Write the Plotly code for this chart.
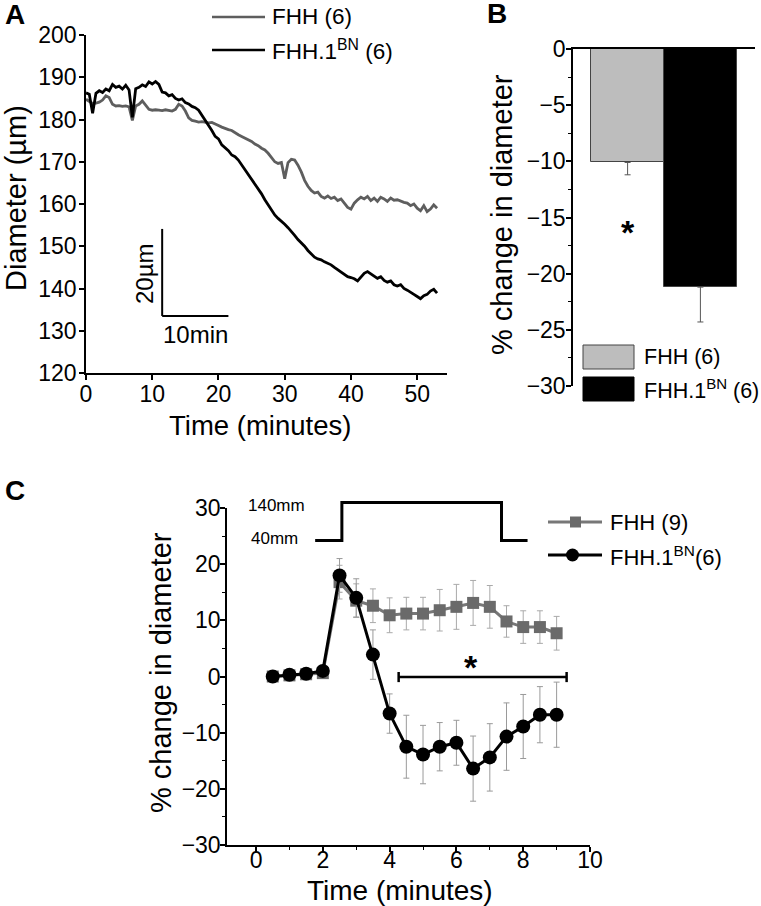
import plotly.graph_objects as go

# ---------------- Panel A data (diameter traces, µm) ----------------
time_a = [i * 0.5 for i in range(107)]
fhh_a = [184.8, 184.2, 183.8, 183.9, 184.1, 184.6, 185.6, 185.2, 183.6, 183.2,
         183.3, 183.1, 183.2, 183.0, 179.8, 183.2, 183.6, 184.4, 183.4, 182.4,
         182.2, 182.3, 182.2, 182.1, 182.3, 182.2, 182.0, 182.4, 183.6, 183.2,
         182.0, 180.4, 179.8, 179.6, 179.4, 179.5, 179.3, 179.2, 179.3, 179.0,
         178.6, 178.2, 177.8, 177.6, 177.4, 176.8, 176.4, 176.0, 175.6, 175.2,
         174.8, 174.2, 173.8, 173.2, 172.8, 172.0, 171.0, 170.0, 169.6, 169.8,
         166.0, 169.8, 170.6, 170.4, 169.2, 167.6, 165.6, 164.2, 163.2, 162.6,
         162.8, 161.8, 161.4, 161.9, 161.3, 161.6, 160.8, 161.2, 160.2, 159.2,
         158.8, 160.2, 161.0, 161.6, 161.2, 161.8, 160.8, 161.4, 160.6, 161.6,
         161.2, 160.6, 161.4, 160.9, 161.0, 160.6, 160.4, 160.2, 159.6, 160.0,
         159.0, 158.4, 159.6, 158.2, 158.8, 159.8, 159.0]
bn_a = [186.3, 186.0, 181.5, 186.2, 186.8, 186.4, 187.2, 186.8, 188.3, 187.6,
        187.9, 187.2, 188.1, 187.0, 180.5, 187.3, 187.6, 188.2, 187.8, 188.9,
        188.4, 189.0, 188.3, 186.5, 186.3, 185.6, 185.9, 185.0, 184.6, 184.9,
        184.0, 183.7, 183.1, 182.8, 182.2, 181.0, 180.0, 178.6, 177.4, 176.0,
        175.4, 174.0, 173.3, 172.6, 171.6, 171.2, 170.4, 169.3, 168.2, 167.0,
        166.0, 164.6, 163.5, 162.4, 161.0, 159.8, 158.4, 157.4, 156.6, 156.0,
        155.2, 154.4, 153.6, 152.6, 151.6, 150.9, 150.0, 149.0, 148.2, 147.4,
        147.0, 146.8, 146.3, 146.0, 145.6, 145.0, 144.4, 143.8, 143.2, 142.8,
        142.6, 142.3, 141.8, 142.6, 143.6, 144.0, 143.5, 143.0, 142.4, 142.8,
        141.9, 141.5, 141.8, 140.9, 140.6, 140.9, 140.0, 139.6, 139.2, 138.6,
        138.1, 137.6, 138.3, 138.6, 139.4, 139.8, 138.9]

# ---------------- Panel B data (% change) ----------------
groups_b = ["FHH (6)", "FHH.1<sup>BN</sup> (6)"]
mean_b = [-10.1, -21.2]
sem_b = [1.1, 3.1]

# ---------------- Panel C data (% change vs time) ----------------
time_c = [0.5, 1.0, 1.5, 2.0, 2.5, 3.0, 3.5, 4.0, 4.5, 5.0, 5.5, 6.0, 6.5, 7.0, 7.5, 8.0, 8.5, 9.0]
fhh_c = [0.0, 0.2, 0.4, 0.6, 16.8, 13.5, 12.6, 10.9, 11.2, 11.2, 11.8, 12.4, 13.1, 12.4, 9.8, 8.8, 8.8, 7.7]
fhh_c_se = [0.3, 0.3, 0.3, 0.4, 3.0, 3.0, 3.0, 3.1, 2.9, 2.9, 3.7, 4.0, 4.0, 3.8, 2.8, 2.9, 2.9, 3.0]
bn_c = [0.0, 0.3, 0.5, 1.0, 18.0, 14.0, 3.9, -6.6, -12.5, -13.9, -12.5, -11.8, -16.4, -14.4, -10.7, -8.9, -6.8, -6.8]
bn_c_se = [0.3, 0.3, 0.3, 0.4, 3.0, 3.4, 4.4, 3.5, 5.6, 5.2, 4.3, 4.0, 5.8, 6.0, 6.0, 5.7, 5.0, 5.8]

W, H = 761, 906
FONT = "Liberation Sans, Arial, sans-serif"


def px(x):
    return x / W


def py(y):
    return 1 - y / H


GRAY_LINE = "#5e5e5e"
GRAY_C = "#6a6a6a"
ERR = "#9a9a9a"

fig = go.Figure()

# Panel A
fig.add_trace(go.Scatter(x=time_a, y=fhh_a, mode="lines", line=dict(color=GRAY_LINE, width=2.8),
                         xaxis="x", yaxis="y", showlegend=False))
fig.add_trace(go.Scatter(x=time_a, y=bn_a, mode="lines", line=dict(color="black", width=2.8),
                         xaxis="x", yaxis="y", showlegend=False))

# Panel B
fig.add_trace(go.Bar(x=[0, 1], y=mean_b, width=[1, 1],
                     marker=dict(color=["#bdbdbd", "black"], line=dict(color="#444444", width=1)),
                     error_y=dict(type="data", symmetric=False, array=[0, 0], arrayminus=sem_b,
                                  color="#555555", thickness=1, width=3),
                     xaxis="x2", yaxis="y2", showlegend=False))

# Panel C
fig.add_trace(go.Scatter(x=time_c, y=fhh_c, mode="lines+markers",
                         line=dict(color="#777777", width=3),
                         marker=dict(symbol="square", size=12, color=GRAY_C),
                         error_y=dict(type="data", array=fhh_c_se, color="#aaaaaa", thickness=1, width=3),
                         xaxis="x3", yaxis="y3", showlegend=False))
fig.add_trace(go.Scatter(x=time_c, y=bn_c, mode="lines+markers",
                         line=dict(color="black", width=3),
                         marker=dict(symbol="circle", size=14, color="black"),
                         error_y=dict(type="data", array=bn_c_se, color=ERR, thickness=1, width=3),
                         xaxis="x3", yaxis="y3", showlegend=False))


def ax(standoff=0, **kw):
    d = dict(showgrid=False, zeroline=False, showline=True, linecolor="black", linewidth=1.5,
             ticks="outside", ticklen=5, tickwidth=1.5, tickcolor="black", automargin=False,
             ticklabelstandoff=standoff,
             tickfont=dict(family=FONT, size=23, color="black"))
    d.update(kw)
    return d


C_XMIN, C_XMAX = -0.87, 10
C_YMIN, C_YMAX = -30, 30

fig.update_layout(
    width=W, height=H, margin=dict(l=0, r=0, t=0, b=0, autoexpand=False),
    paper_bgcolor="white", plot_bgcolor="white",
    font=dict(family=FONT, color="black"),
    xaxis=ax(-5, domain=[px(86), px(447)], range=[0, 54.5], tickvals=[0, 10, 20, 30, 40, 50], anchor="y"),
    yaxis=ax(-2, domain=[py(373), py(35)], range=[120, 200], dtick=10, anchor="x"),
    xaxis2=dict(domain=[px(573), px(755)], range=[-0.75, 1.75], side="top", anchor="y2",
                showgrid=False, zeroline=False, showline=True, linecolor="black", linewidth=1.5,
                ticks="", showticklabels=False, automargin=False),
    yaxis2=ax(-4, domain=[py(386), py(49)], range=[-30, 0], dtick=5, anchor="x2",
              minor=dict(ticks="outside", ticklen=3, dtick=2.5, tickcolor="black", tickwidth=1)),
    xaxis3=ax(-11, domain=[px(227), px(590)], range=[C_XMIN, C_XMAX], tickvals=[0, 2, 4, 6, 8, 10],
              minor=dict(ticks="outside", ticklen=3, tickvals=[1, 3, 5, 7, 9], tickcolor="black", tickwidth=1),
              anchor="y3"),
    yaxis3=ax(-5, domain=[py(845), py(508)], range=[C_YMIN, C_YMAX], dtick=10, anchor="x3",
              minor=dict(ticks="outside", ticklen=3, dtick=5, tickcolor="black", tickwidth=1)),
    bargap=0,
)


def cdx(t):
    return (t - C_XMIN) / (C_XMAX - C_XMIN)


def cdy(v):
    return (v - C_YMIN) / (C_YMAX - C_YMIN)


shapes = []
# Panel A scale bar
shapes.append(dict(type="line", xref="x", yref="y", x0=11.5, x1=11.5, y0=133.5, y1=154.1,
                   line=dict(color="black", width=2)))
shapes.append(dict(type="line", xref="x", yref="y", x0=11.5, x1=21.5, y0=133.5, y1=133.5,
                   line=dict(color="black", width=2)))
# Panel A legend lines
shapes.append(dict(type="line", xref="paper", yref="paper", x0=px(212), x1=px(265), y0=py(17), y1=py(17),
                   line=dict(color=GRAY_LINE, width=2.6)))
shapes.append(dict(type="line", xref="paper", yref="paper", x0=px(212), x1=px(265), y0=py(50), y1=py(50),
                   line=dict(color="black", width=2.6)))
# Panel B legend boxes
shapes.append(dict(type="rect", xref="paper", yref="paper", x0=px(583), x1=px(634), y0=py(369), y1=py(345),
                   fillcolor="#bdbdbd", line=dict(color="#444444", width=1)))
shapes.append(dict(type="rect", xref="paper", yref="paper", x0=px(583), x1=px(634), y0=py(401), y1=py(377),
                   fillcolor="black", line=dict(color="black", width=1)))
# Panel C stimulus step (40mm -> 140mm -> 40mm)
lo, hi = 24.2, 31.0
step_pts = [(1.77, lo), (2.57, lo), (2.57, hi), (7.35, hi), (7.35, lo), (8.13, lo)]
path = "M " + " L ".join(f"{cdx(t):.5f},{cdy(v):.5f}" for t, v in step_pts)
shapes.append(dict(type="path", xref="x3 domain", yref="y3 domain", path=path,
                   line=dict(color="black", width=3)))
# Panel C significance bracket
shapes.append(dict(type="line", xref="x3", yref="y3", x0=4.27, x1=9.3, y0=-0.1, y1=-0.1,
                   line=dict(color="black", width=2.5)))
for xe in (4.27, 9.3):
    shapes.append(dict(type="line", xref="x3", yref="y3", x0=xe, x1=xe, y0=-1.0, y1=0.8,
                       line=dict(color="black", width=2.5)))
# Panel C legend
shapes.append(dict(type="line", xref="paper", yref="paper", x0=px(548), x1=px(602), y0=py(522), y1=py(522),
                   line=dict(color="#777777", width=3)))
shapes.append(dict(type="rect", xref="paper", yref="paper", x0=px(570), x1=px(581), y0=py(527.5), y1=py(516.5),
                   fillcolor=GRAY_C, line=dict(width=0)))
shapes.append(dict(type="line", xref="paper", yref="paper", x0=px(548), x1=px(602), y0=py(555), y1=py(555),
                   line=dict(color="black", width=3)))
shapes.append(dict(type="circle", xref="paper", yref="paper", x0=px(566), x1=px(579), y0=py(561.5), y1=py(548.5),
                   fillcolor="black", line=dict(width=0)))
fig.update_layout(shapes=shapes)

ann = []


def text(x, y, s, size, angle=0, xanchor="center", bold=False):
    ann.append(dict(x=px(x), y=py(y), xref="paper", yref="paper", text=(f"<b>{s}</b>" if bold else s),
                    showarrow=False, textangle=angle, xanchor=xanchor, yanchor="middle",
                    font=dict(family=FONT, size=size, color="black")))


# panel letters
text(15, 15, "A", 28, bold=True)
text(497, 14, "B", 28, bold=True)
text(15, 490, "C", 28, bold=True)
# axis titles
text(16, 198, "Diameter (µm)", 29, angle=-90)
text(260, 426, "Time (minutes)", 27.5)
text(502, 215, "% change in diameter", 29, angle=-90)
text(161, 673, "% change in diameter", 29, angle=-90)
text(400, 890, "Time (minutes)", 28)
# panel A legend + scale bar labels
text(270, 17, "FHH (6)", 22.5, xanchor="left")
text(270, 50, "FHH.1<sup>BN</sup> (6)", 22.5, xanchor="left")
text(144, 274, "20µm", 24, angle=-90)
text(195, 334, "10min", 24)
# panel B
text(628, 232, "*", 34, bold=True)
text(642, 357, "FHH (6)", 21.5, xanchor="left")
text(642, 389, "FHH.1<sup>BN</sup> (6)", 21.5, xanchor="left")
# panel C
text(276, 506, "140mm", 17)
text(274, 538, "40mm", 17)
text(471, 667, "*", 34, bold=True)
text(608, 522, "FHH (9)", 22, xanchor="left")
text(608, 556, "FHH.1<sup>BN</sup>(6)", 22, xanchor="left")

fig.update_layout(annotations=ann)

fig.write_html("out.html", config={"displayModeBar": False},
               post_script="document.body.style.margin='0px';document.body.style.padding='0px';")
